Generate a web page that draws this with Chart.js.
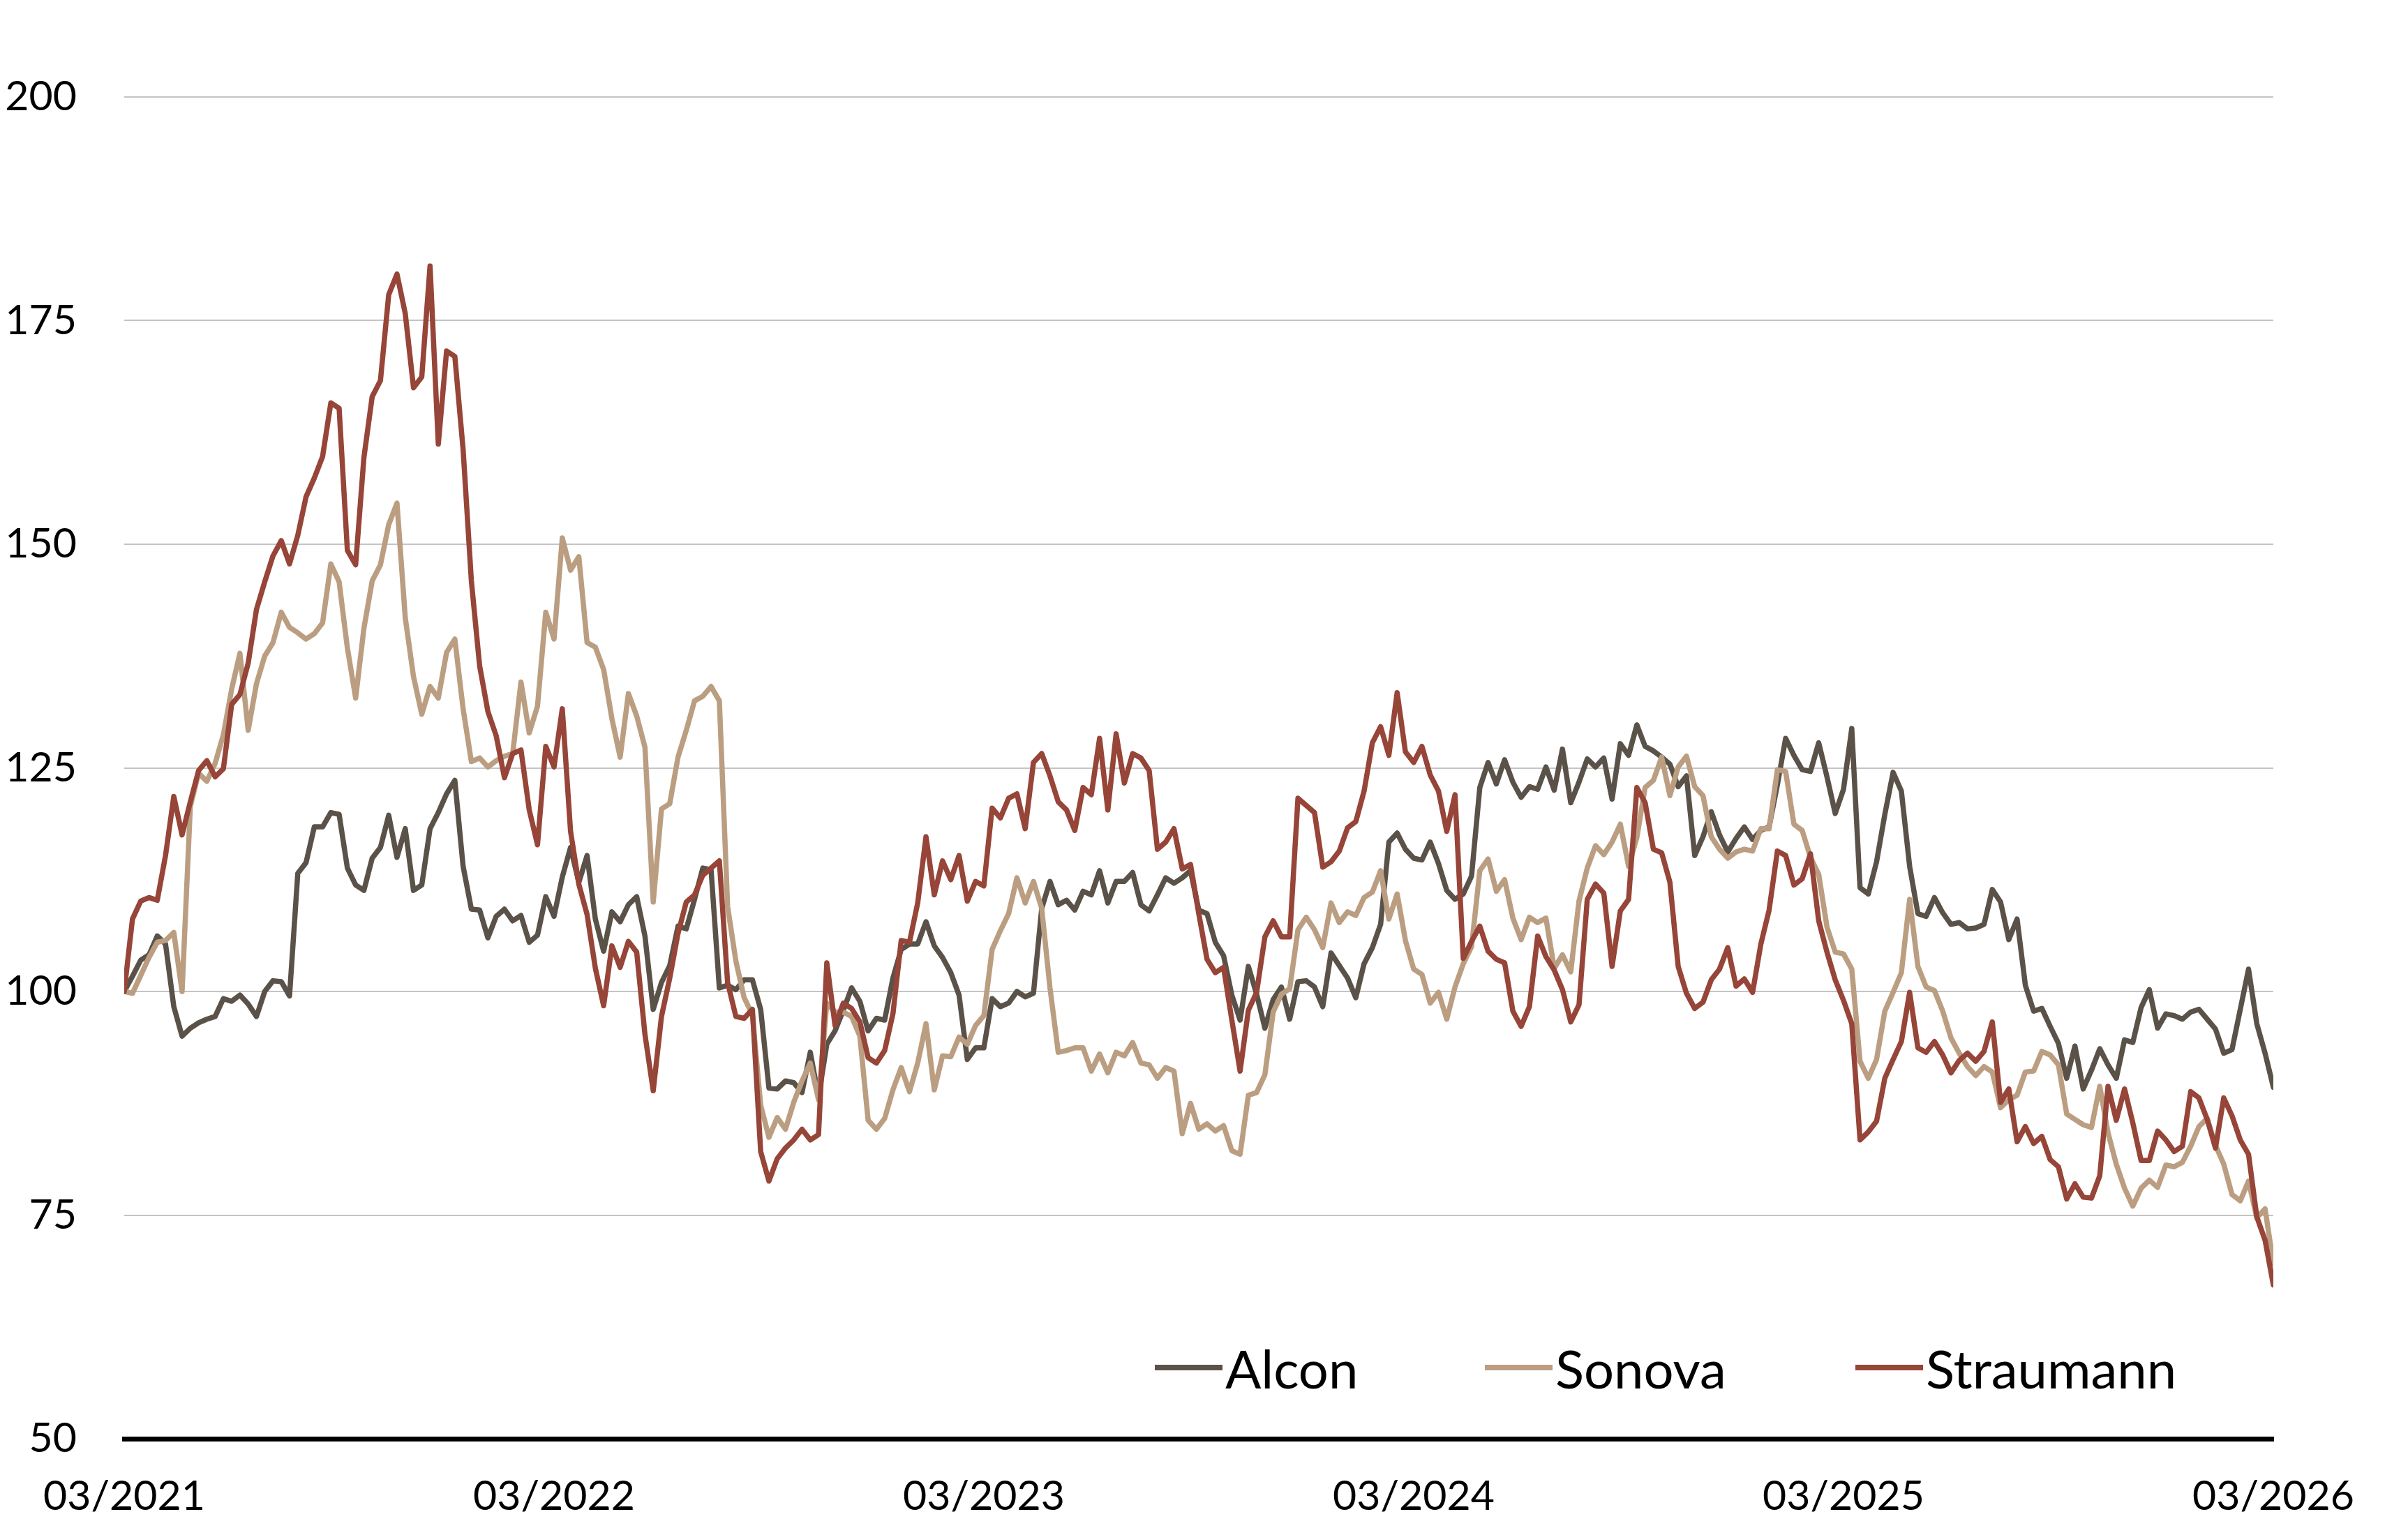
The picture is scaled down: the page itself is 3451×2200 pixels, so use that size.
<!DOCTYPE html>
<html>
<head>
<meta charset="utf-8">
<script src="https://cdn.jsdelivr.net/npm/chart.js@4.4.0/dist/chart.umd.min.js"></script>
<style>
    html, body { margin: 0; padding: 0; background: #fff; }
    #wrap { position: relative; width: 3451px; height: 2200px; }
    #legend { position: absolute; left: 0; top: 0; font-family: Lato, sans-serif; font-size: 76px; color: #000; }
    .item { position: absolute; top: 1912px; height: 96px; display: flex; align-items: center; white-space: nowrap; }
    .mark { display: inline-block; flex-shrink: 0; width: 97px; height: 8px; margin-right: 4px; }
</style>
</head>
<body>
<div id="wrap">
    <canvas id="myChart"></canvas>
    <div id="legend"></div>
</div>
<script>
const tickLabels = ['03/2021', '03/2022', '03/2023', '03/2024', '03/2025', '03/2026']
const seriesNames = ['Alcon', 'Sonova', 'Straumann']

// weekly values, index 100 = 03/2021
const alcon = [
    100, 101.7, 103.5, 104.1, 106.2, 105.3, 98.3, 95.0, 95.9, 96.5,
    96.9, 97.2, 99.2, 98.9, 99.6, 98.6, 97.2, 100, 101.2, 101.1,
    99.5, 113.2, 114.4, 118.4, 118.4, 120, 119.8, 113.8,
    111.9, 111.3, 114.9, 116.1, 119.7, 115, 118.2, 111.3, 111.9, 118.2,
    120, 122.1, 123.6, 114, 109.2, 109.1, 106, 108.4, 109.2, 107.9,
    108.5, 105.5, 106.3, 110.6, 108.4, 112.8, 116.1, 112.2,
    115.2, 108.1, 104.5, 108.9, 107.8, 109.7, 110.6, 106.2, 98, 101,
    102.9, 107.3, 107, 110.3, 113.8, 113.6, 100.4, 100.7, 100.2, 101.3,
    101.3, 98, 89.2, 89.1, 90, 89.8, 88.7,
    93.2, 88.2, 94.1, 95.6, 97.9, 100.4, 98.9, 95.6, 97, 96.8,
    101.5, 104.7, 105.3, 105.3, 107.8, 105.1, 103.8, 102.1, 99.6, 92.4,
    93.7, 93.7, 99.2, 98.3, 98.7, 100, 99.4,
    99.8, 109.3, 112.3, 109.7, 110.2, 109.1, 111.2, 110.8, 113.5, 109.9,
    112.3, 112.3, 113.3, 109.7, 109, 110.8, 112.7, 112.1, 112.7, 113.5,
    109.1, 108.7, 105.5, 104, 99.6, 96.8, 102.8,
    99.7, 95.9, 99.1, 100.5, 96.9, 101.1, 101.2, 100.5, 98.3, 104.3,
    102.9, 101.5, 99.3, 103.1, 104.9, 107.5, 116.7, 117.7, 115.9, 114.9,
    114.7, 116.7, 114.3, 111.3, 110.3, 110.9, 112.9,
    122.8, 125.6, 123.2, 125.9, 123.4, 121.7, 122.9, 122.6, 125.1, 122.5,
    127.1, 121.1, 123.4, 126, 125.1, 126.1, 121.5, 127.7, 126.4, 129.8,
    127.4, 126.9, 126.2, 125.4, 122.9, 124.1,
    115.2, 117.3, 120.1, 117.5, 115.6, 117.1, 118.4, 117, 118, 118.4,
    123.1, 128.3, 126.4, 124.8, 124.6, 127.8, 124, 119.9, 122.6, 129.4,
    111.6, 110.9, 114.5, 119.8, 124.5, 122.4,
    114, 108.7, 108.4, 110.5, 108.8, 107.5, 107.7, 107, 107.1, 107.5,
    111.4, 110, 105.8, 108.1, 100.7, 97.8, 98.1, 96.1, 94.2, 90.3,
    93.9, 89.1, 91.2,
    93.6, 91.8, 90.3, 94.6, 94.3, 98.2, 100.2, 95.9, 97.5, 97.3,
    96.9, 97.7, 98, 96.9, 95.8, 93.1, 93.5, 98, 102.5, 96.4,
    93.1, 89.3
]

const sonova = [
    100, 99.8, 101.8, 103.8, 105.5, 105.7, 106.6, 100, 120.7, 124.4,
    123.5, 125.5, 128.7, 133.8, 137.8, 129.2, 134.4, 137.5, 139, 142.4,
    140.7, 140.1, 139.4, 140, 141.2, 147.8, 145.8, 138.4,
    132.8, 140.6, 145.9, 147.7, 152.2, 154.6, 141.8, 135.2, 131, 134.1,
    132.8, 137.9, 139.4, 131.6, 125.7, 126.1, 125.1, 125.8, 126.3, 126.6,
    134.6, 128.9, 131.9, 142.4, 139.4, 150.7, 147.1, 148.6,
    139, 138.5, 136, 130.5, 126.2, 133.3, 130.8, 127.3, 110, 120.4,
    121, 126.2, 129.2, 132.5, 133, 134.1, 132.5, 109.5, 103.4, 99.3,
    97.4, 87.3, 83.7, 85.9, 84.6, 87.6, 90,
    92, 87.9, 98.7, 97.7, 97.7, 97.2, 95, 85.6, 84.6, 85.8,
    89, 91.5, 88.8, 92, 96.4, 89, 92.8, 92.7, 94.9, 94.1,
    96.2, 97.3, 104.7, 106.8, 108.7, 112.7, 109.9,
    112.3, 109.3, 100.4, 93.2, 93.4, 93.7, 93.7, 91.1, 93, 90.9,
    93.2, 92.8, 94.3, 92, 91.8, 90.3, 91.5, 91.1, 84.1, 87.5,
    84.6, 85.2, 84.4, 85, 82.2, 81.8, 88.4,
    88.7, 90.7, 97.7, 99.7, 100.3, 106.9, 108.3, 106.9, 104.9, 109.9,
    107.7, 108.9, 108.5, 110.5, 111.1, 113.5, 108.1, 110.9, 105.7, 102.5,
    101.9, 98.7, 99.9, 96.9, 100.5, 103.1, 105,
    113.5, 114.8, 111.2, 112.5, 108.2, 105.8, 108.3, 107.7, 108.2, 102.6,
    104.1, 102.2, 110.1, 113.8, 116.3, 115.3, 116.7, 118.7, 114, 117.2,
    122.8, 123.6, 126.2, 121.9, 125.1, 126.3,
    122.9, 121.9, 117.3, 115.9, 114.9, 115.6, 115.9, 115.7, 118.2, 118.2,
    124.8, 124.6, 118.7, 118, 115, 113.1, 107.2, 104.4, 104.2, 102.5,
    92.2, 90.3, 92.4, 97.8, 99.9, 102.1,
    110.3, 102.8, 100.5, 100.1, 97.8, 94.8, 93.1, 91.6, 90.6, 91.6,
    91, 87, 87.9, 88.4, 91, 91.1, 93.3, 92.9, 91.8, 86.3,
    85.7, 85.1, 84.8,
    89.4, 84.2, 80.7, 78, 76, 78, 78.9, 78.1, 80.6, 80.4,
    80.9, 82.7, 84.9, 85.8, 82.8, 80.7, 77.3, 76.6, 78.8, 74.7,
    75.7, 69.6
]

const straumann = [
    100, 108.1, 110.1, 110.5, 110.2, 115.2, 121.8, 117.5, 121.2, 124.7,
    125.8, 124, 124.9, 132.1, 133.2, 136.7, 142.7, 145.8, 148.7, 150.4,
    147.8, 151, 155.3, 157.4, 159.8, 165.8, 165.2, 149.3,
    147.7, 159.7, 166.5, 168.3, 177.9, 180.2, 175.8, 167.5, 168.7, 181.1,
    161.2, 171.6, 171, 160.6, 145.9, 136.4, 131.3, 128.6, 123.9, 126.6,
    127, 120.3, 116.4, 127.4, 125.1, 131.6, 117.9, 112,
    108.6, 102.6, 98.4, 105.1, 102.7, 105.6, 104.4, 95.2, 88.9, 97.2,
    101.5, 106.5, 110, 110.8, 113, 113.8, 114.6, 101, 97.2, 97,
    98, 82.1, 78.8, 81.3, 82.5, 83.4, 84.6,
    83.4, 84, 103.2, 96.2, 98.7, 98.1, 96.6, 92.6, 92, 93.4,
    97.5, 105.7, 105.5, 109.9, 117.3, 110.8, 114.6, 112.5, 115.2, 110.1,
    112.3, 111.8, 120.5, 119.4, 121.6, 122.1, 118.2,
    125.6, 126.6, 124.1, 121.2, 120.3, 118, 122.8, 122, 128.3, 120.3,
    128.8, 123.3, 126.6, 126.1, 124.7, 115.9, 116.7, 118.2, 113.7, 114.2,
    108.7, 103.6, 102.1, 102.7, 96.8, 91.1, 97.9,
    99.9, 106.1, 107.9, 106.1, 106.1, 121.6, 120.8, 120, 113.9, 114.5,
    115.7, 118.3, 119, 122.4, 127.8, 129.6, 126.4, 133.4, 126.8, 125.6,
    127.4, 124.2, 122.4, 117.9, 122, 103.7, 105.6,
    107.3, 104.5, 103.6, 103.2, 97.8, 96.1, 98.3, 106.2, 103.9, 102.4,
    100.2, 96.6, 98.5, 110.3, 112, 111, 102.8, 109, 110.3, 122.8,
    121.1, 115.9, 115.5, 112.2, 102.8, 99.8,
    98.1, 98.8, 101.3, 102.5, 104.9, 100.6, 101.4, 99.9, 105.3, 109.1,
    115.7, 115.2, 111.9, 112.6, 115.4, 107.9, 104.4, 101.3, 99, 96.4,
    83.4, 84.3, 85.5, 90.3, 92.4, 94.4,
    99.9, 93.7, 93.2, 94.4, 92.9, 90.9, 92.3, 93.1, 92.2, 93.3,
    96.6, 87.6, 89.1, 83.2, 84.9, 83, 83.8, 81.2, 80.4, 76.8,
    78.5, 77, 76.9,
    79.4, 89.4, 85.6, 89.1, 85.3, 81.1, 81.1, 84.4, 83.4, 82.1,
    82.7, 88.8, 88.1, 85.7, 82.5, 88.1, 86.1, 83.4, 81.8, 74.8,
    72.2, 67.2
]

const colori = ['#5a5248', '#bb9e81', '#964538']
const allSeries = [alcon, sonova, straumann]

Chart.defaults.font.family = 'Lato'
Chart.defaults.color = '#000'

const ctx = document.getElementById('myChart').getContext('2d')
const myChart = new Chart(ctx, {
    type: 'line',
    data: {
        datasets: allSeries.map((serie, k) => ({
            label: seriesNames[k],
            data: serie.map((v, i) => ({ x: i, y: v })),
            borderColor: colori[k],
            backgroundColor: colori[k],
            borderWidth: 7.5,
            pointRadius: 0,
            tension: 0,
            borderJoinStyle: 'round',
            borderCapStyle: 'round',
            order: 2 - k   // Straumann on top
        }))
    },
    options: {
        responsive: true,
        maintainAspectRatio: false,
        animation: false,
        layout: { padding: { left: 0, right: 193, top: 139, bottom: 0 } },
        plugins: {
            legend: { display: false },
            tooltip: { enabled: false }
        },
        scales: {
            x: {
                type: 'linear',
                min: 0,
                max: 260,
                afterFit: scale => { scale.height = 138 },
                grid: { display: false, drawTicks: false },
                border: { display: true, color: '#000', width: 7 },
                ticks: {
                    stepSize: 52,
                    padding: 48,
                    maxRotation: 0,
                    font: { size: 59 },
                    callback: v => tickLabels[v / 52]
                }
            },
            y: {
                min: 50,
                max: 200,
                afterFit: scale => { scale.width = 178 },
                grid: {
                    drawTicks: false,
                    lineWidth: 2,
                    color: c => c.tick && c.tick.value === 50 ? 'rgba(0,0,0,0)' : '#c4c4c4'
                },
                border: { display: false },
                ticks: { stepSize: 25, padding: 68, font: { size: 59 } }
            }
        }
    }
})

// legend inside the plot, bottom right
let legend = document.querySelector('#legend')
let legendLeft = [1655, 2128, 2659]
seriesNames.forEach((nome, k) => {
    let item = document.createElement('div')
    item.className = 'item'
    item.style.left = legendLeft[k] + 'px'
    let mark = document.createElement('span')
    mark.className = 'mark'
    mark.style.background = colori[k]
    item.append(mark)
    item.append(nome)
    legend.append(item)
})
</script>
</body>
</html>
